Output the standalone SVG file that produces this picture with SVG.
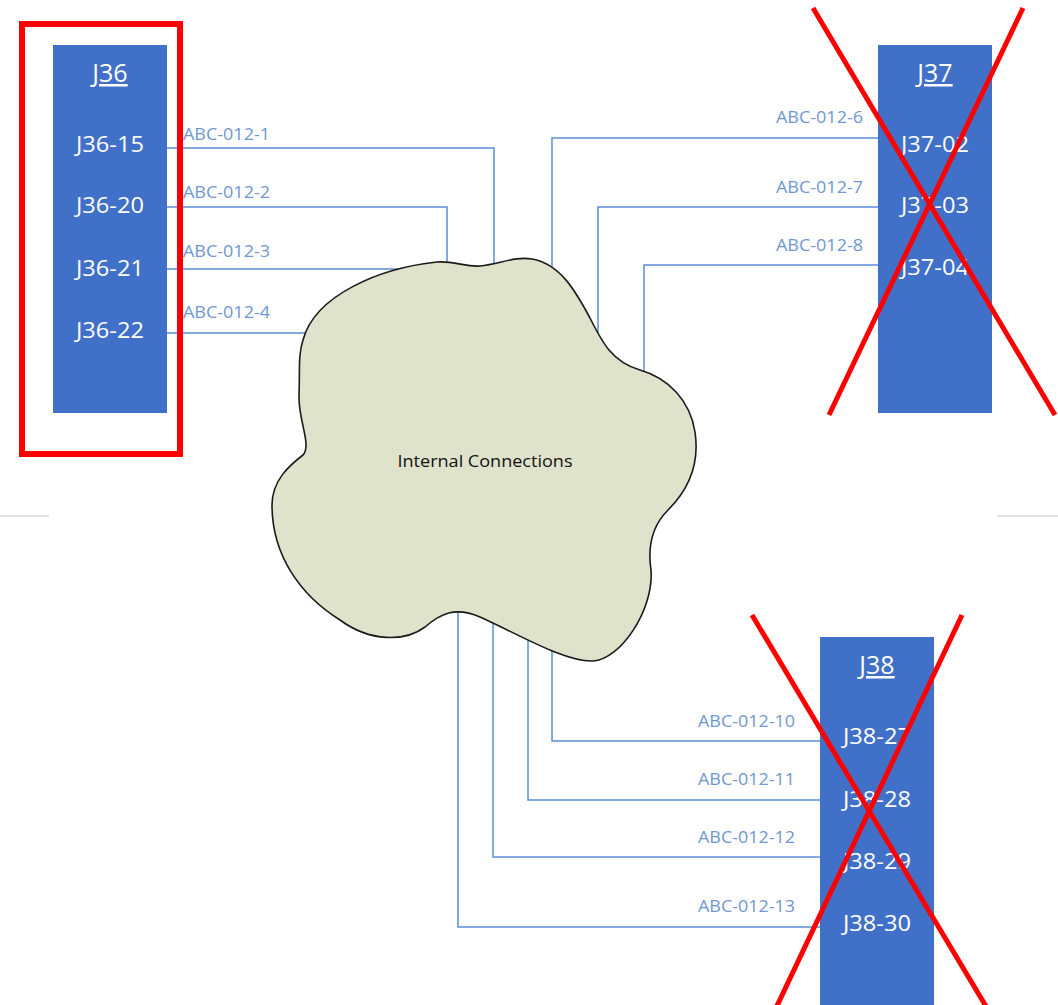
<svg xmlns="http://www.w3.org/2000/svg" width="1058" height="1005" viewBox="0 0 1058 1005">
  <style>
    .box { fill: #4170c8; }
    .title { font-family: "Open Sans", "Liberation Sans", sans-serif; font-size: 25px; fill: #ffffff; text-anchor: middle; text-decoration: underline; }
    .pin { font-family: "Open Sans", "Liberation Sans", sans-serif; font-size: 21px; fill: #ffffff; text-anchor: middle; }
    .wire { fill: none; stroke: #5b8dd3; stroke-width: 1.5; }
    .lbl { font-family: "Open Sans", "Liberation Sans", sans-serif; font-size: 17px; fill: #6f97d2; }
    .lbl-r { text-anchor: end; }
    .cross { stroke: #ff0000; stroke-width: 5; fill: none; }
    .rule { stroke: #c8c8c8; stroke-width: 1.2; }
  </style>

  <rect width="1058" height="1005" fill="#ffffff"/>

  <!-- faint page rules -->
  <line class="rule" x1="0" y1="516" x2="49" y2="516"/>
  <line class="rule" x1="997" y1="516" x2="1058" y2="516"/>

  <!-- wiring -->
  <g id="connectors">
    <polyline class="wire" points="166,148 494,148 494,300"/>
    <polyline class="wire" points="166,207 447,207 447,300"/>
    <polyline class="wire" points="166,269 400,269"/>
    <polyline class="wire" points="166,333 330,333"/>

    <polyline class="wire" points="878,138 552,138 552,300"/>
    <polyline class="wire" points="878,207 598,207 598,360"/>
    <polyline class="wire" points="878,265 644,265 644,400"/>

    <polyline class="wire" points="820,741 552,741 552,600"/>
    <polyline class="wire" points="820,800 528,800 528,600"/>
    <polyline class="wire" points="820,857 493,857 493,600"/>
    <polyline class="wire" points="820,927 458,927 458,600"/>

    <text class="lbl" x="183" y="140" textLength="87" lengthAdjust="spacingAndGlyphs">ABC-012-1</text>
    <text class="lbl" x="183" y="198" textLength="87" lengthAdjust="spacingAndGlyphs">ABC-012-2</text>
    <text class="lbl" x="183" y="257" textLength="87" lengthAdjust="spacingAndGlyphs">ABC-012-3</text>
    <text class="lbl" x="183" y="318" textLength="87" lengthAdjust="spacingAndGlyphs">ABC-012-4</text>

    <text class="lbl" x="776" y="123" textLength="87" lengthAdjust="spacingAndGlyphs">ABC-012-6</text>
    <text class="lbl" x="776" y="193" textLength="87" lengthAdjust="spacingAndGlyphs">ABC-012-7</text>
    <text class="lbl" x="776" y="251" textLength="87" lengthAdjust="spacingAndGlyphs">ABC-012-8</text>

    <text class="lbl" x="698" y="727" textLength="97" lengthAdjust="spacingAndGlyphs">ABC-012-10</text>
    <text class="lbl" x="698" y="785" textLength="97" lengthAdjust="spacingAndGlyphs">ABC-012-11</text>
    <text class="lbl" x="698" y="843" textLength="97" lengthAdjust="spacingAndGlyphs">ABC-012-12</text>
    <text class="lbl" x="698" y="912" textLength="97" lengthAdjust="spacingAndGlyphs">ABC-012-13</text>
  </g>

  <!-- cloud -->
  <g id="internal">
    <path d="M303,340 C315,295 380,268 437,262 C455,261 465,267 480,266 C500,264 515,256 532,259 C560,264 575,290 590,318 C602,342 612,362 640,370 C668,378 690,400 695,432 C700,465 688,490 668,510 C650,528 648,550 651,570 C654,610 620,660 593,661 C565,662 520,635 480,617 C455,606 440,614 425,627 C405,642 370,642 340,620 C300,595 272,555 272,505 C272,480 290,465 303,455 C312,445 298,420 299,395 C300,370 298,355 303,340 Z" fill="#dfe3cc" stroke="#1a1a1a" stroke-width="1.6"/>
    <text x="485" y="467" font-family="'Open Sans', 'Liberation Sans', sans-serif" font-size="16" fill="#111111" text-anchor="middle" textLength="175" lengthAdjust="spacingAndGlyphs">Internal Connections</text>
  </g>

  <!-- connector J36 -->
  <g id="J36">
    <rect class="box" x="53" y="45" width="114" height="368"/>
    <text class="title" x="110" y="82">J36</text>
    <text class="pin" x="110" y="152" textLength="68" lengthAdjust="spacingAndGlyphs">J36-15</text>
    <text class="pin" x="110" y="213" textLength="68" lengthAdjust="spacingAndGlyphs">J36-20</text>
    <text class="pin" x="110" y="276" textLength="68" lengthAdjust="spacingAndGlyphs">J36-21</text>
    <text class="pin" x="110" y="338" textLength="68" lengthAdjust="spacingAndGlyphs">J36-22</text>
    <rect x="22" y="24" width="158" height="430" fill="none" stroke="#ff0000" stroke-width="6"/>
  </g>

  <!-- connector J37 -->
  <g id="J37">
    <rect class="box" x="878" y="45" width="114" height="368"/>
    <text class="title" x="935" y="82">J37</text>
    <text class="pin" x="935" y="152" textLength="68" lengthAdjust="spacingAndGlyphs">J37-02</text>
    <text class="pin" x="935" y="213" textLength="68" lengthAdjust="spacingAndGlyphs">J37-03</text>
    <text class="pin" x="935" y="275" textLength="68" lengthAdjust="spacingAndGlyphs">J37-04</text>
    <line class="cross" x1="813" y1="8" x2="1055" y2="415"/>
    <line class="cross" x1="1023" y1="8" x2="829" y2="415"/>
  </g>

  <!-- connector J38 -->
  <g id="J38">
    <rect class="box" x="820" y="637" width="114" height="368"/>
    <text class="title" x="877" y="674">J38</text>
    <text class="pin" x="877" y="744" textLength="68" lengthAdjust="spacingAndGlyphs">J38-27</text>
    <text class="pin" x="877" y="807" textLength="68" lengthAdjust="spacingAndGlyphs">J38-28</text>
    <text class="pin" x="877" y="869" textLength="68" lengthAdjust="spacingAndGlyphs">J38-29</text>
    <text class="pin" x="877" y="931" textLength="68" lengthAdjust="spacingAndGlyphs">J38-30</text>
    <line class="cross" x1="752" y1="615" x2="987" y2="1008"/>
    <line class="cross" x1="962" y1="615" x2="776" y2="1008"/>
  </g>
</svg>
